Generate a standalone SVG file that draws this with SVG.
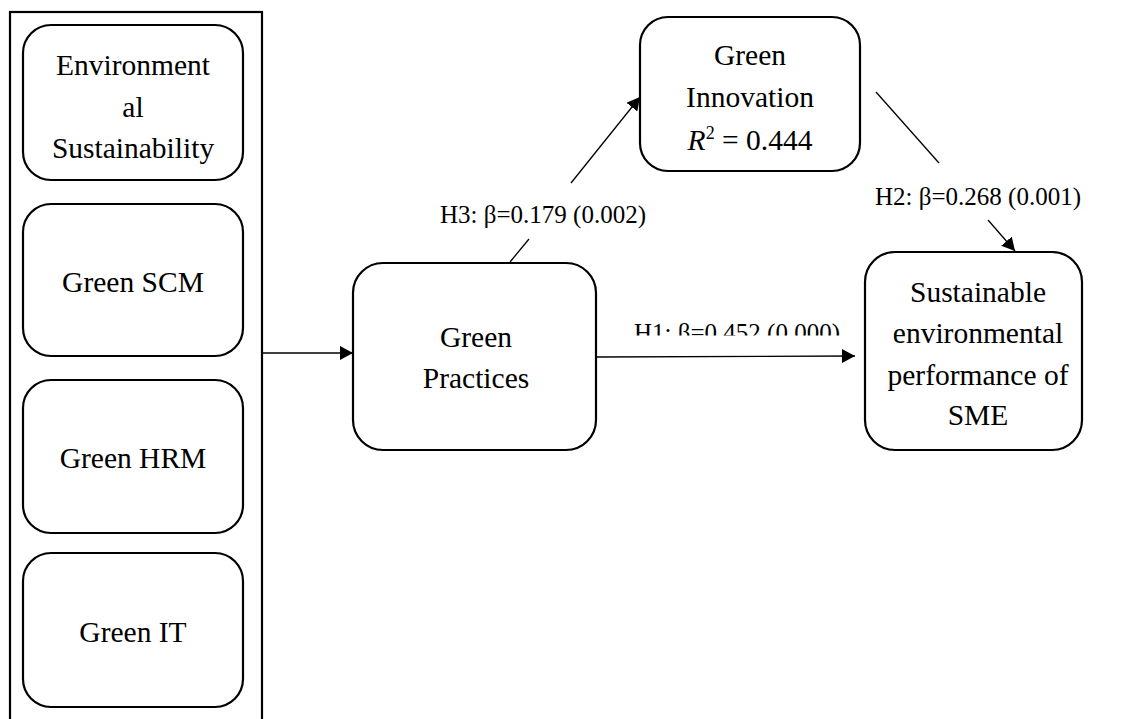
<svg xmlns="http://www.w3.org/2000/svg" width="1127" height="719" viewBox="0 0 1127 719">
<style>
.box{fill:#fff;stroke:#000;stroke-width:2.2}
.t{font-family:"Times New Roman","Liberation Serif",Tinos,"Nimbus Roman","DejaVu Serif",serif;font-size:29.5px;fill:#000;text-anchor:middle}
.lbl{font-family:"Times New Roman","Liberation Serif",Tinos,"Nimbus Roman","DejaVu Serif",serif;font-size:25px;fill:#000}
.ln{stroke:#000;stroke-width:1.3;fill:none}
</style>
<defs>
<marker id="ah" markerUnits="userSpaceOnUse" markerWidth="14" markerHeight="14" refX="13" refY="7" orient="auto">
<path d="M0,0 L13,7 L0,14 z" fill="#000"/>
</marker>
<clipPath id="h1clip"><rect x="600" y="300" width="260" height="35.5"/></clipPath>
</defs>
<rect id="container" x="10" y="12" width="252" height="720" fill="#fff" stroke="#000" stroke-width="2.2"/>
<g id="env">
<rect class="box" x="23" y="25" width="220" height="155" rx="28"/>
<text class="t" x="133" y="75">Environment</text>
<text class="t" x="133" y="117">al</text>
<text class="t" x="133" y="158">Sustainability</text>
</g>
<g id="gscm">
<rect class="box" x="23" y="204" width="220" height="152" rx="28"/>
<text class="t" x="133" y="292">Green SCM</text>
</g>
<g id="ghrm">
<rect class="box" x="23" y="380" width="220" height="153" rx="28"/>
<text class="t" x="133" y="468">Green HRM</text>
</g>
<g id="git">
<rect class="box" x="23" y="553" width="220" height="154" rx="28"/>
<text class="t" x="133" y="642">Green IT</text>
</g>
<g id="gp">
<rect class="box" x="353" y="263" width="243" height="187" rx="30"/>
<text class="t" x="476" y="347">Green</text>
<text class="t" x="476" y="388">Practices</text>
</g>
<g id="gi">
<rect class="box" x="640" y="17" width="220" height="154" rx="28"/>
<text class="t" x="750" y="65">Green</text>
<text class="t" x="750" y="107">Innovation</text>
<text class="t" x="750" y="150"><tspan font-style="italic">R</tspan><tspan font-size="18" dy="-11">2</tspan><tspan dy="11"> = 0.444</tspan></text>
</g>
<g id="sep">
<rect class="box" x="865" y="252" width="217" height="198" rx="30"/>
<text class="t" x="978" y="302">Sustainable</text>
<text class="t" x="978" y="343">environmental</text>
<text class="t" x="978" y="385">performance of</text>
<text class="t" x="978" y="425">SME</text>
</g>
<g id="connectors">
<line class="ln" x1="263" y1="353" x2="353" y2="353" marker-end="url(#ah)"/>
<line class="ln" x1="596" y1="357" x2="855" y2="356" marker-end="url(#ah)"/>
<line class="ln" x1="510" y1="262" x2="529" y2="239"/>
<line class="ln" x1="571" y1="183" x2="640" y2="97" marker-end="url(#ah)"/>
<line class="ln" x1="876" y1="92" x2="939" y2="163"/>
<line class="ln" x1="988" y1="220" x2="1015" y2="251" marker-end="url(#ah)"/>
</g>
<g id="labels">
<text class="lbl" x="440" y="223">H3: β=0.179 (0.002)</text>
<text class="lbl" x="875" y="205">H2: β=0.268 (0.001)</text>
<text class="lbl" x="634" y="341" clip-path="url(#h1clip)">H1: β=0.452 (0.000)</text>
</g>
</svg>
